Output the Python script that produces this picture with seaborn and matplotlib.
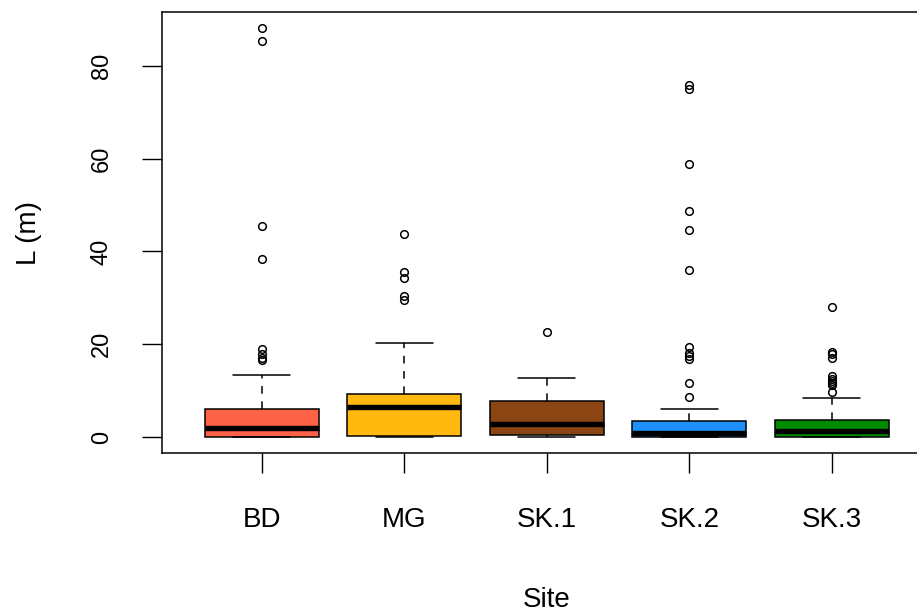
import matplotlib
matplotlib.use("Agg")
from matplotlib import pyplot as plt
import seaborn as sns
import pandas as pd

# L (m) per site
sites = ["BD", "MG", "SK.1", "SK.2", "SK.3"]
colors = ["#FF6347", "#FFB90F", "#8B4513", "#1E90FF", "#008B00"]

bd = [0, 0, 0, 0, 0, 0, 0, 0, 0, 0, 0,
      0.2, 0.4, 0.5, 0.7, 0.9, 1.1, 1.3, 1.5, 1.7, 1.9,
      2.2, 2.6, 3.0, 3.4, 3.8, 4.3, 4.8, 5.2, 5.6, 6.0,
      7.5, 13.3, 16.5, 17.0, 18.0, 19.0, 38.3, 45.5, 85.4, 88.1]
mg = [0.07, 0.1, 0.1, 0.15, 0.2, 0.2, 0.25, 0.25, 0.3, 0.3, 0.3,
      0.8, 1.5, 2.3, 3.0, 3.8, 4.5, 5.0, 5.5, 6.0, 6.4,
      6.7, 7.0, 7.3, 7.6, 7.9, 8.2, 8.5, 8.8, 9.1, 9.3,
      10.5, 12.0, 14.0, 16.5, 20.2, 29.6, 30.3, 34.3, 35.5, 43.8]
sk1 = [0.07, 0.1, 0.1, 0.15, 0.2, 0.2, 0.25, 0.3, 0.35, 0.4, 0.4,
       0.6, 0.8, 1.0, 1.3, 1.5, 1.8, 2.0, 2.3, 2.5, 2.7,
       3.0, 3.5, 4.0, 4.5, 5.0, 5.6, 6.2, 6.8, 7.4, 7.8,
       8.3, 8.8, 9.4, 10.0, 10.6, 11.2, 11.8, 12.3, 12.8, 22.7]
sk2 = [0, 0, 0, 0, 0, 0, 0.01, 0.01, 0.02, 0.02, 0.03, 0.03, 0.04, 0.04, 0.05,
       0.1, 0.15, 0.2, 0.25, 0.3, 0.35, 0.4, 0.45, 0.5, 0.6, 0.7, 0.75, 0.8, 0.9,
       1.0, 1.1, 1.3, 1.5, 1.7, 1.9, 2.1, 2.3, 2.5, 2.7, 2.9, 3.1, 3.3, 3.4,
       4.5, 6.0, 8.7, 11.7, 16.8, 17.5, 18.2, 19.5, 36.0, 44.6, 48.7, 58.8, 75.0, 76.0]
sk3 = [0, 0, 0, 0, 0, 0, 0, 0, 0, 0, 0, 0,
       0.1, 0.2, 0.3, 0.4, 0.5, 0.6, 0.8, 0.9, 1.0, 1.2, 1.3,
       1.5, 1.7, 1.9, 2.1, 2.3, 2.6, 2.9, 3.1, 3.3, 3.5, 3.7,
       8.3, 9.6, 11.2, 11.6, 12.0, 12.5, 13.2, 17.0, 17.8, 18.4, 28.1]

yticks = [0, 20, 40, 60, 80]

df = pd.concat([pd.DataFrame({"Site": s, "L": v})
                for s, v in zip(sites, [bd, mg, sk1, sk2, sk3])])

sns.set_style("white")
plt.rcParams["font.family"] = ["Liberation Sans", "DejaVu Sans"]
plt.rcParams["text.color"] = "black"
plt.rcParams["xtick.color"] = "black"
plt.rcParams["ytick.color"] = "black"
plt.rcParams["axes.labelcolor"] = "black"

fig = plt.figure(figsize=(9.17, 6.12), dpi=100)
# plot region; right edge runs off the picture like in the reference
ax = fig.add_axes([0.1767, 0.2593, 0.8392, 0.7208])

sns.boxplot(data=df, x="Site", y="L", hue="Site", order=sites, palette=colors,
            legend=False, saturation=1, width=0.8, linecolor="black", linewidth=1.1,
            whiskerprops=dict(linestyle=(0, (5, 5)), linewidth=1.1),
            medianprops=dict(linewidth=3.9, color="black"),
            flierprops=dict(marker="o", markerfacecolor="none",
                            markeredgecolor="black", markeredgewidth=1.1),
            fliersize=5.5, ax=ax)

ax.set_xlim(-0.7, 4.7)
ax.set_ylim(-3.52, 91.6)
ax.set_yticks(yticks)
ax.set_yticklabels([str(t) for t in yticks])

for s in ["left", "top", "bottom", "right"]:
    ax.spines[s].set_visible(True)
    ax.spines[s].set_color("black")
    ax.spines[s].set_linewidth(1.1)

ax.tick_params(axis="both", direction="out", length=14.4, width=1.0, color="black",
               bottom=True, left=True, labelcolor="black")
ax.tick_params(axis="x", labelsize=20, pad=24)
ax.tick_params(axis="y", labelsize=17, pad=21, labelrotation=90)
for lab in ax.get_yticklabels():
    lab.set_verticalalignment("center")

ax.set_xlabel("Site", fontsize=20)
ax.set_ylabel("L (m)", fontsize=20)
ax.xaxis.set_label_coords(0.5, -0.332)
ax.xaxis.label.set_verticalalignment("center")
ax.yaxis.set_label_coords(-0.1735, 0.5)
ax.yaxis.label.set_verticalalignment("center")

fig.savefig("out.png", dpi=100, facecolor="white")
